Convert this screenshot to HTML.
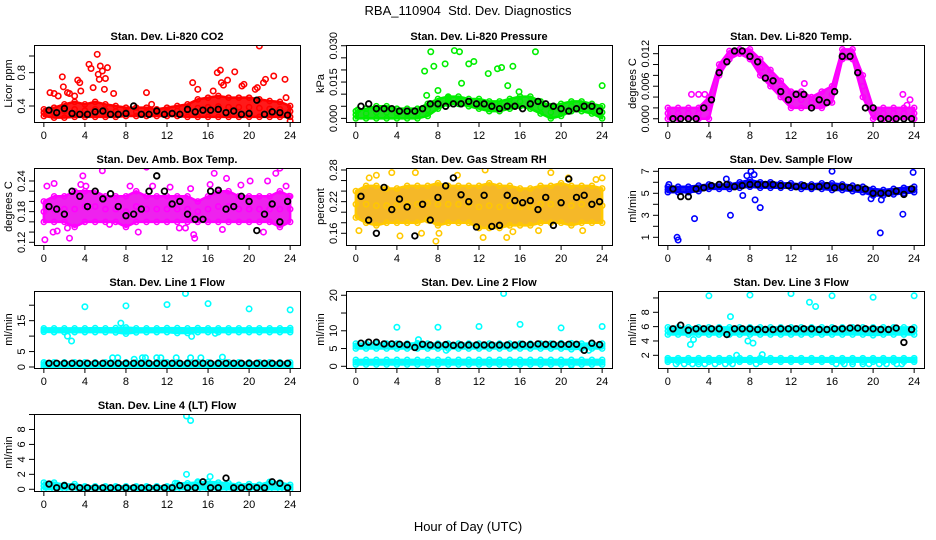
<!DOCTYPE html>
<html><head><meta charset="utf-8"><style>
html,body{margin:0;padding:0;background:#fff;}
svg{display:block;font-family:"Liberation Sans",Arial,sans-serif;}
</style></head><body>
<svg id="chart" width="936" height="540" viewBox="0 0 936 540" xmlns="http://www.w3.org/2000/svg">
<text x="468" y="15" text-anchor="middle" font-size="13">RBA_110904&#160; Std. Dev. Diagnostics</text>
<text x="468" y="531" text-anchor="middle" font-size="13">Hour of Day (UTC)</text>
</svg>
<script>
// ---- shared x positions for black series (hours) ----
const blackHours = [0.5,1.25,2,2.75,3.5,4.25,5,5.75,6.5,7.25,8,8.75,9.5,10.25,11,11.75,12.5,13.25,14,14.75,15.5,16.25,17,17.75,18.5,19.25,20,20.75,21.5,22.25,23,23.75];
const bandHours = [0,1,2,3,4,5,6,7,8,9,10,11,12,13,14,15,16,17,18,19,20,21,22,23,24];
const xTicks = [0,4,8,12,16,20,24];

// ---- P1 CO2 ----
const co2Hi = [0.36,0.38,0.42,0.45,0.42,0.45,0.42,0.40,0.38,0.38,0.38,0.36,0.38,0.40,0.42,0.48,0.50,0.52,0.50,0.50,0.50,0.48,0.46,0.45,0.40];
const co2Lo = [0.28,0.26,0.26,0.27,0.27,0.27,0.27,0.27,0.28,0.28,0.28,0.28,0.28,0.28,0.27,0.27,0.27,0.27,0.27,0.27,0.27,0.27,0.27,0.27,0.27];
const co2OutT = [0.6,1.0,1.4,1.8,1.9,2.3,2.5,3.0,3.3,3.5,3.6,4.4,4.6,4.8,5.2,5.3,5.4,5.5,5.7,5.9,6.0,6.2,6.8,10.0,10.5,14.5,15.0,16.5,16.9,17.2,17.3,17.5,17.9,18.6,19.3,19.5,20.6,20.8,21.0,21.4,21.6,22.4,23.5,23.6,24.0];
const co2OutV = [0.56,0.55,0.52,0.75,0.63,0.56,0.55,0.52,0.71,0.68,0.58,0.90,0.85,0.62,1.02,0.78,0.72,0.88,0.82,0.60,0.73,0.86,0.55,0.56,0.42,0.68,0.60,0.58,0.80,0.83,0.68,0.65,0.71,0.81,0.64,0.66,0.60,0.62,1.12,0.68,0.72,0.76,0.72,0.50,0.22];
const co2Black = [0.35,0.32,0.37,0.31,0.30,0.30,0.33,0.34,0.30,0.30,0.31,0.40,0.30,0.30,0.34,0.30,0.31,0.30,0.36,0.33,0.35,0.35,0.36,0.32,0.34,0.30,0.31,0.47,0.30,0.33,0.32,0.29];

// ---- P2 Pressure ----
const prHi = [0.003,0.004,0.005,0.005,0.004,0.004,0.004,0.006,0.008,0.009,0.009,0.008,0.008,0.007,0.007,0.008,0.009,0.009,0.007,0.005,0.006,0.007,0.007,0.006,0.005];
const prLo = [0.000,0.000,0.000,0.000,0.000,0.000,0.000,0.001,0.004,0.006,0.006,0.005,0.004,0.003,0.003,0.004,0.005,0.004,0.002,0.000,0.001,0.003,0.003,0.002,0.000];
const prOutT = [0.2,6.7,6.9,7.3,7.6,8.0,8.7,9.0,9.6,10.1,10.3,11.0,11.5,12.9,13.8,14.2,14.8,15.3,15.9,17.5,24.0];
const prOutV = [0.0035,0.0195,0.0095,0.0275,0.0215,0.0115,0.0225,0.0085,0.028,0.0275,0.0145,0.0225,0.0235,0.0185,0.0205,0.021,0.0135,0.0215,0.011,0.0275,0.0135];
const prBlack = [0.005,0.006,0.004,0.004,0.004,0.003,0.003,0.003,0.004,0.006,0.006,0.005,0.006,0.006,0.007,0.006,0.006,0.005,0.004,0.005,0.005,0.004,0.006,0.007,0.006,0.005,0.004,0.003,0.004,0.005,0.005,0.003];

// ---- P3 Li-820 Temp ----
const tpHi = [0.002,0.002,0.002,0.002,0.004,0.010,0.0125,0.0128,0.0128,0.011,0.009,0.007,0.005,0.005,0.004,0.005,0.006,0.0128,0.0128,0.008,0.002,0.002,0.002,0.002,0.002];
const tpLo = [0.000,0.000,0.000,0.000,0.000,0.008,0.011,0.012,0.011,0.008,0.006,0.004,0.002,0.002,0.002,0.002,0.003,0.011,0.011,0.004,0.000,0.000,0.000,0.000,0.000];
const tpOutT = [2.3,3.0,3.6,9.2,13.3,22.9,23.3,23.6];
const tpOutV = [0.0045,0.0045,0.0045,0.0095,0.0065,0.0045,0.0025,0.0035];
const tpBlack = [0,0,0,0,0.002,0.0035,0.0085,0.0105,0.0125,0.0125,0.0115,0.0105,0.0075,0.007,0.005,0.0035,0.0045,0.0045,0.002,0.0035,0.003,0.005,0.0115,0.0115,0.0085,0.002,0.002,0,0,0,0,0];

// ---- P4 Amb Box Temp ----
const abHi = [0.20,0.21,0.21,0.22,0.22,0.22,0.21,0.21,0.21,0.22,0.21,0.21,0.21,0.21,0.21,0.20,0.21,0.22,0.22,0.21,0.21,0.21,0.21,0.22,0.21];
const abLo = [0.16,0.16,0.16,0.15,0.16,0.16,0.16,0.16,0.15,0.16,0.16,0.16,0.16,0.16,0.16,0.16,0.16,0.16,0.16,0.16,0.16,0.16,0.16,0.15,0.16];
const abOutT = [0.1,0.3,0.9,1.0,1.3,2.3,2.5,3.8,5.7,6.4,9.2,10.0,10.6,12.3,13.2,13.8,14.3,14.6,14.7,16.2,16.6,17.4,17.8,20.1,21.4,21.8,22.6,23.0,23.6,23.9,19.2,8.4,3.6,4.1];
const abOutV = [0.125,0.23,0.14,0.235,0.142,0.148,0.128,0.25,0.26,0.155,0.14,0.267,0.23,0.228,0.148,0.148,0.225,0.135,0.128,0.233,0.255,0.145,0.245,0.24,0.14,0.24,0.255,0.265,0.23,0.21,0.232,0.23,0.233,0.23];
const abBlack = [0.19,0.185,0.175,0.22,0.21,0.19,0.22,0.205,0.215,0.19,0.172,0.175,0.185,0.22,0.25,0.22,0.195,0.20,0.175,0.165,0.165,0.22,0.222,0.185,0.19,0.21,0.20,0.143,0.175,0.195,0.16,0.20];

// ---- P5 Gas Stream RH ----
const rhHi = [0.24,0.25,0.25,0.245,0.245,0.25,0.25,0.25,0.255,0.25,0.25,0.25,0.25,0.255,0.25,0.25,0.245,0.245,0.25,0.25,0.255,0.25,0.25,0.25,0.245];
const rhLo = [0.19,0.18,0.175,0.18,0.18,0.18,0.18,0.185,0.175,0.18,0.18,0.18,0.17,0.17,0.17,0.175,0.175,0.175,0.18,0.18,0.18,0.175,0.18,0.18,0.18];
const rhOutT = [0.3,1.3,2.0,3.5,4.3,5.8,6.4,7.8,8.1,9.9,12.4,12.6,14.7,15.3,17.8,19.0,20.7,22.1,24.0,23.4];
const rhOutV = [0.165,0.265,0.27,0.275,0.155,0.275,0.16,0.145,0.16,0.27,0.152,0.28,0.152,0.163,0.165,0.275,0.265,0.165,0.265,0.262];
const rhBlack = [0.23,0.185,0.16,0.247,0.205,0.225,0.21,0.155,0.215,0.185,0.228,0.25,0.265,0.233,0.22,0.172,0.232,0.173,0.175,0.232,0.222,0.218,0.222,0.205,0.228,0.175,0.218,0.263,0.228,0.232,0.215,0.22];

// ---- P6 Sample Flow ----
const sfHi = [5.6,5.6,5.6,5.7,5.8,5.8,5.8,6.0,6.2,6.0,6.0,5.9,5.9,5.8,5.8,5.9,5.9,5.8,5.7,5.6,5.4,5.3,5.4,5.5,5.6];
const sfLo = [5.1,5.1,5.1,5.2,5.4,5.4,5.4,5.5,5.6,5.5,5.5,5.5,5.5,5.4,5.4,5.4,5.3,5.3,5.2,5.1,4.8,4.8,4.9,5.0,5.1];
const sfOutT = [0.1,0.9,1.0,2.6,6.1,7.3,7.7,8.1,8.4,8.5,9.0,16.0,19.8,20.7,20.8,22.9,23.9,5.7];
const sfOutV = [5.8,1.0,0.75,2.7,3.0,4.8,6.6,7.0,6.7,4.4,3.7,7.0,4.5,1.4,4.4,3.1,6.9,6.3];
const sfBlack = [5.4,4.7,4.7,5.4,5.5,5.7,5.8,5.8,5.6,5.7,5.8,5.8,5.8,5.8,5.7,5.7,5.6,5.7,5.6,5.6,5.7,5.5,5.6,5.5,5.5,5.4,5.0,5.0,5.0,5.2,4.9,5.4];

// ---- P7 Line 1 Flow ----
const l1Hi = [12.5,12.5,12.5,12.5,12.5,12.6,12.5,12.6,12.8,12.5,12.5,12.5,12.6,12.6,12.5,12.6,12.5,12.5,12.5,12.5,12.5,12.5,12.5,12.5,12.6];
const l1Lo = [11.4,11.3,11.3,11.3,11.3,11.3,11.3,11.2,10.8,11.2,11.3,11.3,11.3,11.0,11.0,11.3,11.3,11.3,11.3,11.3,11.3,11.3,11.3,11.3,11.3];
const l1BandHi = [1.5,1.5,1.5,1.5,1.5,1.5,1.5,1.5,1.5,1.5,1.5,1.5,1.5,1.5,1.5,1.5,1.5,1.5,1.5,1.5,1.5,1.5,1.5,1.5,1.5];
const l1BandLo = [0,0,0,0,0,0,0,0,0,0,0,0,0,0,0,0,0,0,0,0,0,0,0,0,0];
const l1OutT = [4.0,8.0,12.0,13.8,16.0,20.0,24.0,2.3,2.7,7.5,14.4,16.7,6.7,7.2,8.8,9.6,9.9,11.0,11.4,12.9,14.3,15.3,17.4,0.1];
const l1OutV = [19.5,19.8,20.2,23.8,20.5,18.8,18.5,10.0,8.4,14.2,9.9,10.9,3.0,3.0,2.5,3.0,3.0,3.0,3.0,3.0,3.0,3.0,3.2,1.0];
const l1Black = [1.2,1.2,1.2,1.2,1.2,1.2,1.2,1.2,1.2,1.2,1.2,1.2,1.2,1.2,1.2,1.2,1.2,1.2,1.2,1.2,1.2,1.2,1.2,1.2,1.2,1.2,1.2,1.2,1.2,1.2,1.2,1.2];

// ---- P8 Line 2 Flow ----
const l2Hi = [6.4,6.4,6.4,6.4,6.4,6.4,6.5,6.4,6.4,6.4,6.4,6.4,6.4,6.4,6.4,6.4,6.4,6.4,6.4,6.4,6.5,6.5,6.4,6.4,6.4];
const l2Lo = [5.0,5.0,5.0,5.0,5.0,5.0,5.0,5.0,5.0,5.0,5.0,5.0,5.0,5.0,5.0,5.0,5.0,5.0,5.0,5.0,5.0,4.8,5.0,5.0,5.0];
const l2BandHi = [1.8,1.8,1.8,1.8,1.8,1.8,1.8,1.8,1.8,1.8,1.8,1.8,1.8,1.8,1.8,1.8,1.8,1.8,1.8,1.8,1.8,1.8,1.8,1.8,1.8];
const l2BandLo = [0.5,0.5,0.5,0.5,0.5,0.5,0.5,0.5,0.5,0.5,0.5,0.5,0.5,0.5,0.5,0.5,0.5,0.5,0.5,0.5,0.5,0.5,0.5,0.5,0.5];
const l2OutT = [4.0,8.0,12.0,14.4,16.0,20.0,24.0,6.1,8.8,21.0,22.7];
const l2OutV = [11.0,11.0,11.2,20.5,11.8,10.8,11.2,7.5,4.5,0.3,4.5];
const l2Black = [6.5,6.8,6.8,6.3,6.3,6.2,6.1,5.3,6.2,6.0,6.0,6.1,5.9,6.0,6.0,6.0,6.0,6.0,6.0,6.0,6.0,6.2,6.1,6.3,6.2,6.2,6.2,6.2,6.2,4.5,6.5,6.1];

// ---- P9 Line 3 Flow ----
const l3Hi = [5.9,5.9,5.9,5.9,5.9,5.9,5.9,5.9,5.9,5.9,5.9,5.9,5.9,5.9,5.9,5.9,5.9,5.9,5.9,5.9,5.9,5.9,5.9,5.9,5.9];
const l3Lo = [4.9,4.9,4.9,4.9,4.9,4.9,4.9,4.9,4.9,4.9,4.9,4.9,4.9,4.9,4.9,4.9,4.9,4.9,4.9,4.9,4.8,4.9,4.9,4.9,4.9];
const l3BandHi = [1.6,1.6,1.6,1.6,1.6,1.6,1.6,1.6,1.6,1.6,1.6,1.6,1.6,1.6,1.6,1.6,1.6,1.6,1.6,1.6,1.6,1.6,1.6,1.6,1.6];
const l3BandLo = [1.1,1.1,1.1,1.1,1.1,1.1,1.1,1.1,1.1,1.1,1.1,1.1,1.1,1.1,1.1,1.1,1.1,1.1,1.1,1.1,1.1,1.1,1.1,1.1,1.1];
const l3OutT = [4.0,8.0,12.0,13.8,14.4,16.0,20.0,24.0,6.1,2.2,2.5,7.8,8.3,6.7,9.2,0.8,1.6,2.4,3.0,3.6,4.6,5.6,6.3,8.6,16.4,17.2,18.0,19.0,19.6,20.6,21.3,22.3,22.8];
const l3OutV = [10.3,10.4,10.6,9.4,8.8,10.3,10.1,10.3,7.4,3.5,4.2,4.0,3.7,2.0,2.1,0.8,0.8,0.8,0.8,0.8,0.8,0.8,0.8,0.8,0.8,0.8,0.8,0.8,0.8,0.8,0.8,0.8,0.8];
const l3Black = [5.7,6.2,5.5,5.7,5.7,5.7,5.7,4.9,5.7,5.7,5.7,5.6,5.6,5.6,5.7,5.7,5.7,5.7,5.7,5.6,5.6,5.7,5.7,5.8,5.8,5.7,5.7,5.6,5.6,5.8,3.8,5.6];

// ---- P10 Line 4 Flow ----
const l4Hi = [0.9,0.9,0.6,0.7,0.4,0.4,0.4,0.4,0.4,0.4,0.4,0.4,0.4,0.8,0.8,0.9,1.0,0.9,0.8,0.6,0.7,0.6,1.0,0.9,0.6];
const l4Lo = [0,0,0,0,0,0,0,0,0,0,0,0,0,0,0,0,0,0,0,0,0,0,0,0,0];
const l4OutT = [13.9,14.3,13.9,16.2,15.0,12.8];
const l4OutV = [9.8,9.2,2.0,1.7,1.0,0.8];
const l4Black = [0.7,0.2,0.5,0.3,0.2,0.2,0.2,0.2,0.2,0.2,0.2,0.2,0.2,0.2,0.2,0.2,0.2,0.5,0.2,0.2,1.0,0.2,0.2,1.5,0.2,0.2,0.3,0.2,0.2,1.0,0.8,0.2];

const NS = "http://www.w3.org/2000/svg";
const svg = document.getElementById('chart');
function mk(tag, attrs, parent){
  const e = document.createElementNS(NS, tag);
  for (const k in attrs) e.setAttribute(k, attrs[k]);
  (parent||svg).appendChild(e);
  return e;
}

const panels = [
  {key:'co2', title:'Stan. Dev. Li-820 CO2', ylab:'Licor ppm', col:0,row:0, ymin:0.208,ymax:1.132, ticks:[0.4,0.6,0.8,1.0], labels:[0.4,0.8], dec:1, color:'#ff0000', fill:'#ff1a1a',
   bands:[[co2Lo,co2Hi]], outT:co2OutT, outV:co2OutV, black:co2Black},
  {key:'pressure', title:'Stan. Dev. Li-820 Pressure', ylab:'kPa', col:1,row:0, ymin:-0.0015,ymax:0.0303, ticks:[0,0.005,0.010,0.015,0.020,0.025,0.030], labels:[0,0.015,0.030], dec:3, color:'#00ee00', fill:'#22dd22',
   bands:[[prLo,prHi]], outT:prOutT, outV:prOutV, black:prBlack},
  {key:'li820-temp', title:'Stan. Dev. Li-820 Temp.', ylab:'degrees C', col:2,row:0, ymin:-0.0006,ymax:0.0136, ticks:[0,0.002,0.004,0.006,0.008,0.010,0.012], labels:[0,0.006,0.012], dec:3, color:'#ff00ff', fill:'#ee22ee',
   bands:[[tpLo,tpHi]], outT:tpOutT, outV:tpOutV, black:tpBlack},
  {key:'amb-box-temp', title:'Stan. Dev. Amb. Box Temp.', ylab:'degrees C', col:0,row:1, ymin:0.1147,ymax:0.2654, ticks:[0.12,0.14,0.16,0.18,0.20,0.22,0.24], labels:[0.12,0.18,0.24], dec:2, color:'#ff00ff', fill:'#ee22ee',
   bands:[[abLo,abHi]], outT:abOutT, outV:abOutV, black:abBlack},
  {key:'gas-stream-rh', title:'Stan. Dev. Gas Stream RH', ylab:'percent', col:1,row:1, ymin:0.1378,ymax:0.2838, ticks:[0.16,0.18,0.20,0.22,0.24,0.26,0.28], labels:[0.16,0.22,0.28], dec:2, color:'#ffc800', fill:'#f5b828',
   bands:[[rhLo,rhHi]], outT:rhOutT, outV:rhOutV, black:rhBlack},
  {key:'sample-flow', title:'Stan. Dev. Sample Flow', ylab:'ml/min', col:2,row:1, ymin:0.3,ymax:7.3, ticks:[1,2,3,4,5,6,7], labels:[1,3,5,7], dec:0, color:'#0000ff', fill:'#1a1aee',
   bands:[[sfLo,sfHi]], outT:sfOutT, outV:sfOutV, black:sfBlack},
  {key:'line1-flow', title:'Stan. Dev. Line 1 Flow', ylab:'ml/min', col:0,row:2, ymin:-0.32,ymax:24.6, ticks:[0,5,10,15,20], labels:[0,5,15], dec:0, color:'#00ffff', fill:'#22eeee',
   bands:[[l1Lo,l1Hi],[l1BandLo,l1BandHi]], outT:l1OutT, outV:l1OutV, black:l1Black},
  {key:'line2-flow', title:'Stan. Dev. Line 2 Flow', ylab:'ml/min', col:1,row:2, ymin:-0.48,ymax:21.2, ticks:[0,5,10,15,20], labels:[0,5,10,20], dec:0, color:'#00ffff', fill:'#22eeee',
   bands:[[l2Lo,l2Hi],[l2BandLo,l2BandHi]], outT:l2OutT, outV:l2OutV, black:l2Black},
  {key:'line3-flow', title:'Stan. Dev. Line 3 Flow', ylab:'ml/min', col:2,row:2, ymin:0.23,ymax:10.97, ticks:[2,4,6,8,10], labels:[2,4,6,8], dec:0, color:'#00ffff', fill:'#22eeee',
   bands:[[l3Lo,l3Hi],[l3BandLo,l3BandHi]], outT:l3OutT, outV:l3OutV, black:l3Black},
  {key:'line4-flow', title:'Stan. Dev. Line 4 (LT) Flow', ylab:'ml/min', col:0,row:3, ymin:-0.23,ymax:10.07, ticks:[0,2,4,6,8,10], labels:[0,2,4,6,8], dec:0, color:'#00ffff', fill:'#22eeee',
   bands:[[l4Lo,l4Hi]], outT:l4OutT, outV:l4OutV, black:l4Black}
];

const W = 266, H = 77;
panels.forEach(p => {
  const L = 34 + p.col*312, T = 45 + p.row*123, B = T + H, R = L + W;
  const g = mk('g', {});
  
  
  const xs = h => L + 9.85 + h * (W - 19.7) / 24;
  const ys = v => B - (v - p.ymin) / (p.ymax - p.ymin) * H;

  const clip = mk('clipPath', {id:'clip-'+p.key}, g);
  mk('rect', {x:L, y:T, width:W, height:H}, clip);
  const marks = mk('g', {'clip-path':'url(#clip-'+p.key+')'}, g);
  
  

  p.bands.forEach(([lo, hi], bi) => {
    let pts = bandHours.map((h,i) => xs(h)+','+ys(hi[i]));
    pts = pts.concat(bandHours.slice().reverse().map((h,j) => { const i = bandHours.length-1-j; return xs(h)+','+ys(lo[i]); }));
    const poly = mk('polygon', {points:pts.join(' '), fill:p.fill, stroke:p.color, 'stroke-width':2.5, 'stroke-linejoin':'round'}, marks);
    
    
    bandHours.forEach((h,i) => {
      [lo[i], hi[i], (lo[i]+hi[i])/2].forEach(v => {
        const c = mk('circle', {cx:xs(h), cy:ys(v), r:2.6, fill:'none', stroke:p.color, 'stroke-width':1.5}, marks);
        
        
      });
    });
  });
  p.outT.forEach((h,i) => {
    const c = mk('circle', {cx:xs(h), cy:ys(p.outV[i]), r:2.7, fill:'none', stroke:p.color, 'stroke-width':1.6}, marks);
    
    
  });
  blackHours.forEach((h,i) => {
    const c = mk('circle', {cx:xs(h), cy:ys(p.black[i]), r:2.8, fill:'none', stroke:'#000', 'stroke-width':1.8}, marks);
    
    
  });

  const box = mk('rect', {x:L+0.5, y:T+0.5, width:W, height:H, fill:'none', stroke:'#000', 'stroke-width':1}, g);
  
  

  const xa = mk('g', {}, g);
  
  
  mk('line', {x1:xs(0), x2:xs(24), y1:B+0.5, y2:B+0.5, stroke:'#000'}, xa);
  xTicks.forEach(t => {
    mk('line', {x1:xs(t), x2:xs(t), y1:B, y2:B+5, stroke:'#000'}, xa);
    const tx = mk('text', {x:xs(t), y:B+17, 'text-anchor':'middle', 'font-size':11}, xa);
    
    
    tx.textContent = t;
  });
  const ya = mk('g', {}, g);
  
  
  mk('line', {x1:L+0.5, x2:L+0.5, y1:ys(p.ticks[0]), y2:ys(p.ticks[p.ticks.length-1]), stroke:'#000'}, ya);
  p.ticks.forEach(t => mk('line', {x1:L-5, x2:L, y1:ys(t), y2:ys(t), stroke:'#000'}, ya));
  p.labels.forEach(t => {
    const y = ys(t);
    const tx = mk('text', {x:L-9, y:y, 'text-anchor':'middle', 'font-size':11, transform:'rotate(-90 '+(L-9)+' '+y+')'}, ya);
    
    
    tx.textContent = t.toFixed(p.dec);
  });
  const yt = mk('text', {x:L-22, y:T+H/2, 'text-anchor':'middle', 'font-size':11, transform:'rotate(-90 '+(L-22)+' '+(T+H/2)+')'}, g);
  
  
  yt.textContent = p.ylab;
  const tt = mk('text', {x:L+W/2, y:T-5, 'text-anchor':'middle', 'font-size':11, 'font-weight':'bold'}, g);
  
  
  tt.textContent = p.title;
});
</script>
</body></html>
